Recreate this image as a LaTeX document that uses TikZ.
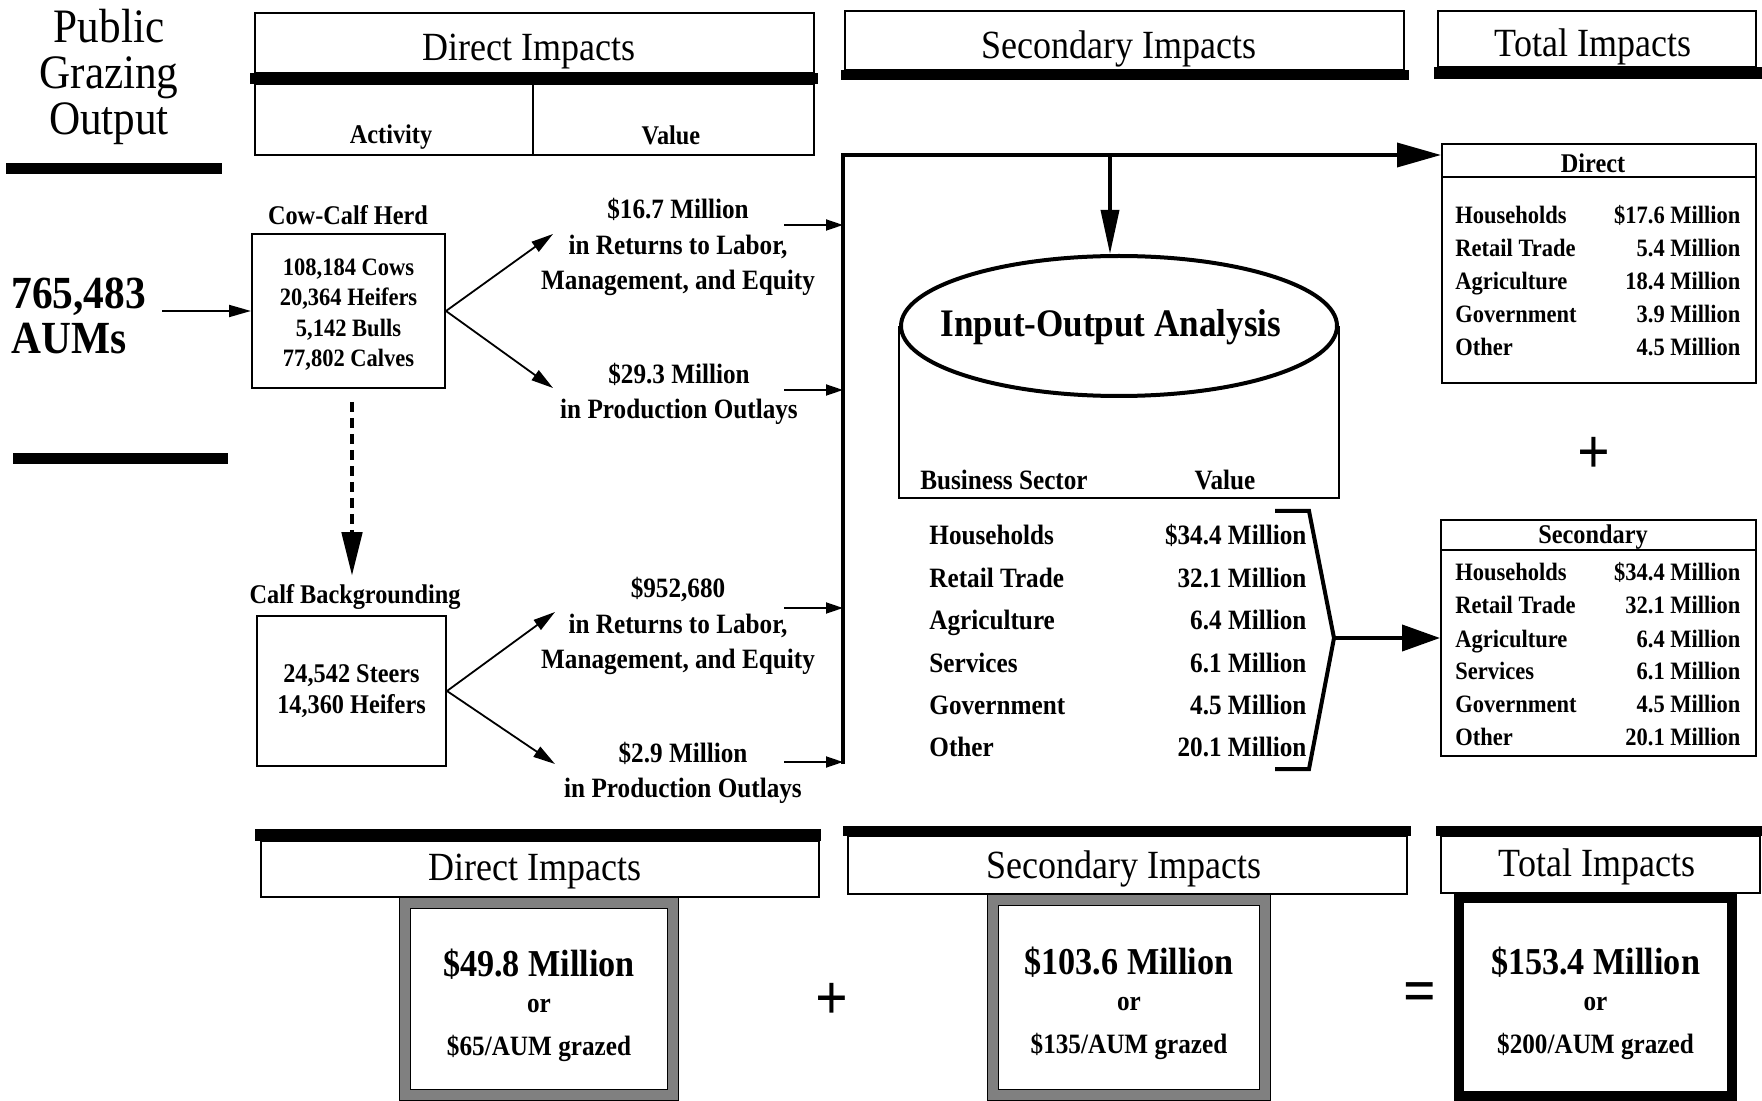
\documentclass[tikz,border=0pt]{standalone}
\usepackage{fontspec}
\setmainfont{Liberation Serif}[FakeStretch=0.9]
\usetikzlibrary{arrows.meta,positioning,calc,shapes.geometric}

\tikzset{
  box/.style={draw, line width=1pt, inner sep=0pt},
  hdrtext/.style={font=\fontsize{20}{22}\selectfont, inner sep=0pt},
  lbl/.style={font=\bfseries\fontsize{13.5}{16}\selectfont, inner sep=0pt},
  valtext/.style={font=\bfseries\fontsize{14}{17.7}\selectfont, align=center, inner sep=0pt},
  biglist/.style={font=\bfseries\fontsize{14}{21.2}\selectfont, inner sep=0pt, anchor=base west},
  smalllist/.style={font=\bfseries\fontsize{12.5}{16.5}\selectfont, inner sep=0pt, anchor=base west},
  arr/.style={line width=0.9pt, -{Triangle[length=11pt,width=6pt]}},
  inarr/.style={line width=0.9pt, -{Triangle[length=8.5pt,width=5.5pt]}},
  bus/.style={line width=1.8pt},
  dasharr/.style={line width=2.4pt, dash pattern=on 5pt off 3pt,
    -{Triangle[length=22pt,width=10pt]}},
  sumbox/.style={draw=black, double=black!50, double distance=5pt, line width=0.6pt,
    minimum width=134pt, minimum height=96pt, align=center, inner sep=0pt,
    font=\bfseries\fontsize{14}{16.5}\selectfont},
  totbox/.style={sumbox, double=none, line width=5pt},
  sign/.style={font=\bfseries\fontsize{32}{32}\selectfont, inner sep=0pt},
}

\begin{document}
\begin{tikzpicture}[x=0.5pt, y=-0.5pt]
  \useasboundingbox (0,0) rectangle (1762,1101);

  % left column
  \node (pgo) [font=\fontsize{24}{23}\selectfont, align=center, inner sep=0pt] at (109,77) {Public\\Grazing\\Output};
  \fill (6,163) rectangle (222,174);
  \node (aums) [font=\bfseries\fontsize{23}{22.5}\selectfont, align=left, anchor=west, inner sep=0pt] at (11,316) {765,483\\AUMs};
  \fill (13,453) rectangle (228,464);

  % headers at the top
  \node (hdDirect) [box, minimum width=279.5pt, minimum height=30pt] at (534.5,43) {};
  \node (tDirect) [hdrtext] at (529,52) {Direct Impacts};
  \fill (250,73) rectangle (818,84);
  \node (act) [box, minimum width=139pt, minimum height=35.5pt] at (394,119.5) {};
  \node (val) [box, minimum width=140.5pt, minimum height=35.5pt] at (673.5,119.5) {};
  \node (tAct) [lbl] at (391,137) {Activity};
  \node (tVal) [lbl] at (671,135) {Value};

  \node (hdSec) [box, minimum width=279.5pt, minimum height=29.5pt] at (1124.5,40.5) {};
  \node (tSec) [hdrtext] at (1119,49) {Secondary Impacts};
  \fill (841,70) rectangle (1409,80);

  \node (hdTot) [box, minimum width=159pt, minimum height=28pt] at (1597,39) {};
  \node (tTot) [hdrtext] at (1593,47) {Total Impacts};
  \fill (1434,67) rectangle (1762,79);

  % activities
  \node (cowlbl) [lbl] at (348,215) {Cow-Calf Herd};
  \node (cow) [box, minimum width=96.5pt, minimum height=77pt, align=center,
    font=\bfseries\fontsize{12.5}{15.2}\selectfont] at (348.5,311)
    {\rule{0pt}{12pt}108,184 Cows\\20,364 Heifers\\5,142 Bulls\\77,802 Calves};
  \node (calflbl) [lbl] at (355,597) {Calf Backgrounding};
  \node (calf) [box, minimum width=94.5pt, minimum height=75pt, align=center,
    font=\bfseries\fontsize{13.5}{15.5}\selectfont] at (351.5,691)
    {24,542 Steers\\14,360 Heifers};

  \coordinate (aumsout) at ([xshift=8pt]aums.east);
  \draw[arr] (aumsout |- cow.west) -- (cow.west);
  \coordinate (dashstart) at (352,402);
  \coordinate (dashend) at ([yshift=4pt]dashstart |- calflbl.north);
  \draw[dasharr] (dashstart) -- (dashend);

  % values
  \node (v1) [valtext] at (678,247) {\$16.7 Million\\in Returns to Labor,\\Management, and Equity};
  \node (v2) [valtext] at (679,394) {\$29.3 Million\\in Production Outlays};
  \node (v3) [valtext] at (678,626) {\$952,680\\in Returns to Labor,\\Management, and Equity};
  \node (v4) [valtext] at (683,773) {\$2.9 Million\\in Production Outlays};

  \coordinate (c1) at (553,234);
  \coordinate (c2) at (553,388);
  \coordinate (c3) at (555,612);
  \coordinate (c4) at (555,764);
  \draw[arr] (cow.east) -- (c1);
  \draw[arr] (cow.east) -- (c2);
  \draw[arr] (calf.east) -- (c3);
  \draw[arr] (calf.east) -- (c4);

  % collecting line
  \coordinate (corner) at (843,155);
  \coordinate (busend) at (843,764);
  \coordinate (in1) at (784,225);
  \coordinate (in2) at (784,390);
  \coordinate (in3) at (784,608);
  \coordinate (in4) at (784,762);
  \draw[inarr] (in1) -- (in1 -| corner);
  \draw[inarr] (in2) -- (in2 -| corner);
  \draw[inarr] (in3) -- (in3 -| corner);
  \draw[inarr] (in4) -- (in4 -| corner);

  % input-output analysis
  \node (io) [ellipse, draw, line width=2pt, minimum width=218pt, minimum height=70pt, inner sep=0pt] at (1119,326) {};
  \node (tIO) [font=\bfseries\fontsize{19.5}{22}\selectfont, inner sep=0pt] at (1111,327) {Input-Output Analysis};
  \coordinate (cylbot) at (1119,498);
  \draw[line width=1pt] (io.west) -- (io.west |- cylbot) -- (io.east |- cylbot) -- (io.east);
  \node (tBus) [lbl, font=\bfseries\fontsize{14}{16}\selectfont] at (1004,480) {Business Sector};
  \node (tVal2) [lbl, font=\bfseries\fontsize{14}{16}\selectfont] at (1225,480) {Value};
  \node (sectors) [biglist] at (929,545) {%
    \begin{tabular*}{188.5pt}[t]{@{}l@{\extracolsep{\fill}}r@{}}
      Households & \$34.4 Million\\
      Retail Trade & 32.1 Million\\
      Agriculture & 6.4 Million\\
      Services & 6.1 Million\\
      Government & 4.5 Million\\
      Other & 20.1 Million
    \end{tabular*}};
  \coordinate (brtip) at (1334,638);
  \draw[line width=2pt] (1275,511) -- (1309,511) -- (brtip) -- (1309,769) -- (1275,769);

  % total impacts
  \node (dirbox) [box, minimum width=157pt, minimum height=119.5pt] at (1599,263.5) {};
  \draw[line width=1pt] ($(dirbox.north west)+(0,34)$) -- ($(dirbox.north east)+(0,34)$);
  \node (tDir) [lbl] at (1593,163) {Direct};
  \node (dirlist) [smalllist] at (1455,224) {%
    \begin{tabular*}{142.5pt}[t]{@{}l@{\extracolsep{\fill}}r@{}}
      Households & \$17.6 Million\\
      Retail Trade & 5.4 Million\\
      Agriculture & 18.4 Million\\
      Government & 3.9 Million\\
      Other & 4.5 Million
    \end{tabular*}};
  \node (plus1) [sign] at (1594,455) {+};
  \node (secbox) [box, minimum width=157.5pt, minimum height=118pt] at (1598.5,638) {};
  \draw[line width=1pt] ($(secbox.north west)+(0,31)$) -- ($(secbox.north east)+(0,31)$);
  \node (tSecd) [lbl] at (1593,537) {Secondary};
  \node (seclist) [smalllist] at (1455,581) {%
    \begin{tabular*}{142.5pt}[t]{@{}l@{\extracolsep{\fill}}r@{}}
      Households & \$34.4 Million\\
      Retail Trade & 32.1 Million\\
      Agriculture & 6.4 Million\\
      Services & 6.1 Million\\
      Government & 4.5 Million\\
      Other & 20.1 Million
    \end{tabular*}};

  \draw[bus, -{Triangle[length=22pt,width=12pt]}] (busend) -- (corner) -- (corner -| dirbox.west);
  \coordinate (drop) at (1110,155);
  \draw[bus, -{Triangle[length=22pt,width=9pt]}] (drop) -- (drop |- io.north);
  \draw[line width=2pt, -{Triangle[length=19pt,width=13pt]}] (brtip) -- (secbox.west);

  % headers at the bottom
  \fill (255,829) rectangle (821,841);
  \node (bhDirect) [box, minimum width=279pt, minimum height=28pt] at (540,869) {};
  \node (btDirect) [hdrtext] at (535,872) {Direct Impacts};
  \fill (843,826) rectangle (1411,836);
  \node (bhSec) [box, minimum width=279.5pt, minimum height=29pt] at (1127.5,865) {};
  \node (btSec) [hdrtext] at (1124,869) {Secondary Impacts};
  \fill (1436,826) rectangle (1762,836);
  \node (bhTot) [box, minimum width=159.5pt, minimum height=28.5pt] at (1600.5,864.5) {};
  \node (btTot) [hdrtext] at (1597,867) {Total Impacts};

  % sums
  \node (sumDirect) [sumbox] at (539,999)
    {{\fontsize{19}{21}\selectfont\rule{0pt}{20pt}\$49.8 Million}\\[1.5pt] or\\[5pt] \$65/AUM grazed};
  \node (plus2) [sign] at (832,1001) {+};
  \node (sumSec) [sumbox, minimum width=136pt, minimum height=97.5pt] at (1129,997.5)
    {{\fontsize{19}{21}\selectfont\rule{0pt}{20pt}\$103.6 Million}\\[1.5pt] or\\[5pt] \$135/AUM grazed};
  \node (equals) [sign] at (1420,998) {=};
  \node (sumTot) [totbox, minimum width=136.5pt, minimum height=99pt] at (1595.5,997)
    {{\fontsize{19}{21}\selectfont\rule{0pt}{20pt}\$153.4 Million}\\[1.5pt] or\\[5pt] \$200/AUM grazed};
\end{tikzpicture}
\end{document}
